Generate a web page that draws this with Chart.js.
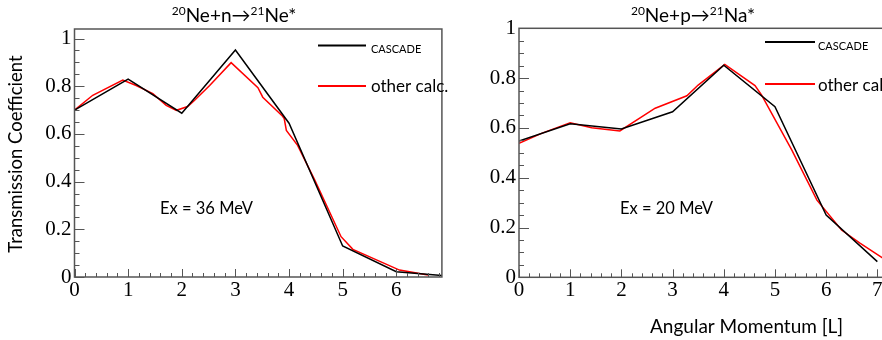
<!DOCTYPE html>
<html>
<head>
<meta charset="utf-8">
<script src="https://cdn.jsdelivr.net/npm/chart.js@4.4.1/dist/chart.umd.min.js"></script>
<style>
  html, body { margin: 0; padding: 0; background: #fff; overflow: hidden; width: 882px; height: 340px; }
  .box { position: absolute; top: 0; height: 340px; }
  #left { left: 0; width: 450px; }
  #right { left: 450px; width: 460px; }
</style>
</head>
<body>
<div class="box" id="left"><canvas id="chartN" width="450" height="340"></canvas></div>
<div class="box" id="right"><canvas id="chartP" width="460" height="340"></canvas></div>
<script>
// 20Ne+n -> 21Ne*, Ex = 36 MeV
const nCascadeL = [0, 1, 2, 3, 4, 5, 6, 7];
const nCascadeT = [0.70, 0.83, 0.687, 0.952, 0.645, 0.13, 0.022, 0.004];
const nOtherL = [0, 0.34, 0.90, 1.15, 1.46, 1.71, 1.90, 2.11, 2.24, 2.52, 2.92, 3.42, 3.51, 3.88, 3.91, 3.95, 4.16, 4.48, 4.97, 5.19, 6.06, 6.59];
const nOtherT = [0.70, 0.762, 0.826, 0.803, 0.769, 0.72, 0.699, 0.715, 0.741, 0.803, 0.899, 0.794, 0.754, 0.674, 0.664, 0.615, 0.552, 0.406, 0.169, 0.116, 0.029, 0.008];

// 20Ne+p -> 21Na*, Ex = 20 MeV
const pCascadeL = [0, 1, 2, 3, 4, 5, 6, 7];
const pCascadeT = [0.547, 0.617, 0.596, 0.665, 0.852, 0.685, 0.25, 0.063];
const pOtherL = [0, 0.44, 1.0, 1.42, 1.97, 2.66, 3.28, 3.5, 4.02, 4.61, 4.74, 5.33, 5.82, 6.3, 6.66, 7.1];
const pOtherT = [0.538, 0.578, 0.621, 0.601, 0.588, 0.679, 0.729, 0.772, 0.855, 0.77, 0.732, 0.511, 0.31, 0.19, 0.137, 0.078];

// axis ticks
const xTickVals = [0, 1, 2, 3, 4, 5, 6, 7];
const xTickLabels = ['0', '1', '2', '3', '4', '5', '6', '7'];
const yTickVals = [0, 0.2, 0.4, 0.6, 0.8, 1];
const yTickLabels = ['0', '0.2', '0.4', '0.6', '0.8', '1'];

const seriesNames = ['CASCADE', 'other calc.'];
const titleN = [['20', true], ['Ne+n\u2192', false], ['21', true], ['Ne*', false]];
const titleP = [['20', true], ['Ne+p\u2192', false], ['21', true], ['Na*', false]];
const yTitle = 'Transmission Coefficient';
const xTitle = 'Angular Momentum [L]';

const SANS = "Lato, 'DejaVu Sans', sans-serif";
const SERIF = "'Liberation Serif', serif";

function pts(xs, ys) {
    return xs.map((x, i) => ({ x: x, y: ys[i] }));
}

// draws the ROOT-like frame, inward ticks and all the text decorations
function decorations(o) {
    return {
        id: 'decorations',
        afterDatasetsDraw(chart) {
            const { ctx, chartArea: a, scales: { x, y } } = chart;
            ctx.save();
            ctx.strokeStyle = '#555';
            ctx.lineWidth = 1;
            // x ticks every 0.2, major every 1
            for (let i = 0; i * 0.2 <= x.max + 1e-9; i++) {
                const px = Math.round(x.getPixelForValue(i * 0.2)) + 0.5;
                const len = i % 5 === 0 ? 8 : 4;
                ctx.beginPath();
                ctx.moveTo(px, a.bottom);
                ctx.lineTo(px, a.bottom - len);
                ctx.stroke();
            }
            // y ticks every 0.05, major every 0.2
            for (let i = 0; i * 0.05 <= y.max + 1e-9; i++) {
                const py = Math.round(y.getPixelForValue(i * 0.05)) + 0.5;
                const len = i % 4 === 0 ? 10 : 5;
                ctx.beginPath();
                ctx.moveTo(a.left, py);
                ctx.lineTo(a.left + len, py);
                ctx.stroke();
            }
            ctx.lineWidth = 1.5;
            ctx.strokeRect(a.left, a.top, a.right - a.left, a.bottom - a.top);
            ctx.restore();
        },
        afterDraw(chart) {
            const ctx = chart.ctx;
            ctx.save();
            ctx.fillStyle = '#000';
            ctx.textBaseline = 'alphabetic';
            ctx.textAlign = 'left';

            // title with superscripts
            const big = '19px ' + SANS, small = '12px ' + SANS;
            let total = 0;
            o.title.forEach(([t, sup]) => { ctx.font = sup ? small : big; total += ctx.measureText(t).width; });
            let tx = o.titleCx - total / 2;
            o.title.forEach(([t, sup]) => {
                ctx.font = sup ? small : big;
                ctx.fillText(t, tx, sup ? o.titleBase - 7 : o.titleBase);
                tx += ctx.measureText(t).width;
            });

            // energy annotation
            ctx.font = '16.5px ' + SANS;
            ctx.fillText(o.annot, o.annotX, o.annotBase);

            // legend
            const colors = ['#000', '#ff0000'];
            o.legendY.forEach((ly, i) => {
                ctx.strokeStyle = colors[i];
                ctx.lineWidth = 2;
                ctx.beginPath();
                ctx.moveTo(o.legendX0, ly);
                ctx.lineTo(o.legendX1, ly);
                ctx.stroke();
                ctx.font = (i === 0 ? '11px ' : '17px ') + SANS;
                ctx.fillText(seriesNames[i], o.legendTextX, o.legendBase[i]);
            });

            if (o.yTitle) {
                ctx.font = '18.5px ' + SANS;
                ctx.translate(o.yTitleX, o.yTitleY);
                ctx.rotate(-Math.PI / 2);
                ctx.textAlign = 'center';
                ctx.textBaseline = 'middle';
                ctx.fillText(o.yTitle, 0, 0);
                ctx.setTransform(1, 0, 0, 1, 0, 0);
            }
            if (o.xTitle) {
                ctx.font = '19px ' + SANS;
                ctx.textAlign = 'left';
                ctx.textBaseline = 'alphabetic';
                ctx.fillText(o.xTitle, o.xTitleX, o.xTitleBase);
            }
            ctx.restore();
        }
    };
}

function makeChart(id, cascade, other, xMax, yMax, yWidth, pad, deco) {
    return new Chart(document.getElementById(id), {
        type: 'line',
        data: {
            datasets: [
                { label: seriesNames[0], data: cascade, borderColor: '#000', borderWidth: 1.5 },
                { label: seriesNames[1], data: other, borderColor: '#ff0000', borderWidth: 1.5 }
            ]
        },
        options: {
            responsive: false,
            animation: false,
            events: [],
            elements: { point: { radius: 0 }, line: { tension: 0 } },
            layout: { padding: pad },
            plugins: { legend: { display: false }, tooltip: { enabled: false } },
            scales: {
                x: {
                    type: 'linear', min: 0, max: xMax,
                    grid: { display: false, drawTicks: false },
                    border: { display: false },
                    afterBuildTicks: s => { s.ticks = xTickVals.filter(v => v <= xMax).map(v => ({ value: v })); },
                    afterFit: s => { s.height = 40; },
                    ticks: {
                        font: { family: SERIF, size: 21 }, color: '#000', padding: 1,
                        maxRotation: 0, autoSkip: false,
                        callback: v => xTickLabels[xTickVals.indexOf(v)]
                    }
                },
                y: {
                    type: 'linear', min: 0, max: yMax,
                    grid: { display: false, drawTicks: false },
                    border: { display: false },
                    afterBuildTicks: s => { s.ticks = yTickVals.map(v => ({ value: v })); },
                    afterFit: s => { s.width = yWidth; },
                    ticks: {
                        font: { family: SERIF, size: 21 }, color: '#000', padding: 3,
                        autoSkip: false,
                        callback: v => yTickLabels[yTickVals.indexOf(v)]
                    }
                }
            }
        },
        plugins: [decorations(deco)]
    });
}

makeChart('chartN', pts(nCascadeL, nCascadeT), pts(nOtherL, nOtherT), 6.85, 1.04, 74.5,
    { left: 0, top: 29, right: 8.1, bottom: 23 },
    {
        title: titleN, titleCx: 234, titleBase: 22,
        annot: 'Ex = 36 MeV', annotX: 160, annotBase: 214,
        legendX0: 318, legendX1: 366, legendY: [45.5, 86], legendTextX: 371, legendBase: [53, 92],
        yTitle: yTitle, yTitleX: 16, yTitleY: 154
    });

makeChart('chartP', pts(pCascadeL, pCascadeT), pts(pOtherL, pOtherT), 7.3, 1, 69,
    { left: 0, top: 28.3, right: 17.3, bottom: 22.7 },
    {
        title: titleP, titleCx: 243, titleBase: 22,
        annot: 'Ex = 20 MeV', annotX: 170, annotBase: 214,
        legendX0: 315, legendX1: 365, legendY: [42, 84], legendTextX: 368, legendBase: [50, 91],
        xTitle: xTitle, xTitleX: 200, xTitleBase: 333
    });
</script>
</body>
</html>
